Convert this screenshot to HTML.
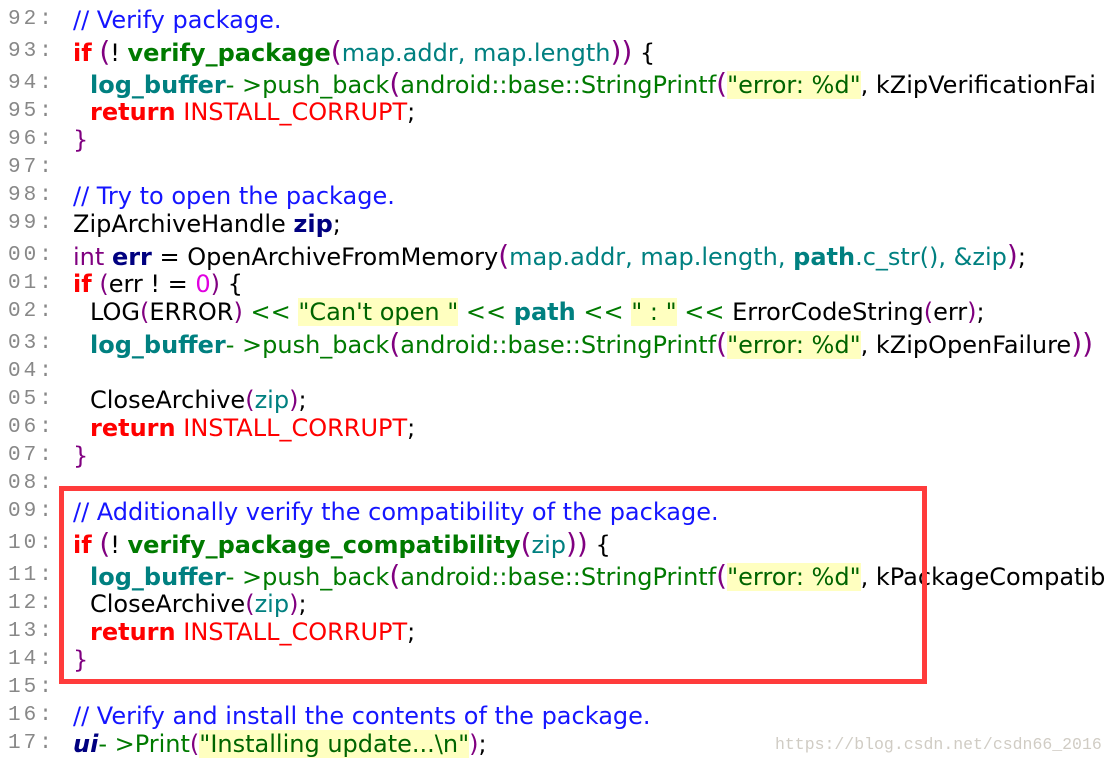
<!DOCTYPE html>
<html><head><meta charset="utf-8"><style>
body{margin:0;width:1115px;height:768px;background:#fff;overflow:hidden;position:relative;font-family:"DejaVu Sans","Liberation Sans",sans-serif}
.n{position:absolute;left:8px;font-family:"Liberation Mono",monospace;font-size:21px;color:#888;letter-spacing:3px;line-height:28px}
.l{position:absolute;font-size:24px;line-height:28px;white-space:nowrap;color:#000}
.cl{width:1025px;overflow:hidden}
.c{color:#1515ff}.k{color:#f00;font-weight:bold}.f{color:#007a00;font-weight:bold}.g{color:#007a00}
.t{color:#008080}.tb{color:#008080;font-weight:bold}.p{color:#800080;font-size:28px}.r{color:#f00}
.s{background:#ffffc0;color:#006400}.v{color:#000080;font-weight:bold}.m{color:#e000e0}.pu{color:#800080}
.box{position:absolute;left:59px;top:486px;width:858px;height:188px;border:5px solid #ff3b3b}
.w{position:absolute;left:775px;top:735px;font-family:"Liberation Mono",monospace;font-size:16.5px;color:#d0ccc4}
</style></head><body>
<div class="n" style="top:6px">92:</div><div class="l" style="left:73px;top:6px"><span class="c">// Verify package.</span></div>
<div class="n" style="top:38px">93:</div><div class="l" style="left:73px;top:38px"><span class="k">if</span> <span class="p">(</span>! <span class="f">verify_package</span><span class="p">(</span><span class="t">map.addr, map.length</span><span class="p">))</span> {</div>
<div class="n" style="top:70px">94:</div><div class="l cl" style="left:90px;top:70px"><span class="tb">log_buffer</span><span class="g">- &gt;push_back</span><span class="p">(</span><span class="g">android::base::StringPrintf</span><span class="p">(</span><span class="s">"error: %d"</span>, kZipVerificationFai</div>
<div class="n" style="top:98px">95:</div><div class="l" style="left:90px;top:98px"><span class="k">return</span> <span class="r">INSTALL_CORRUPT</span>;</div>
<div class="n" style="top:126px">96:</div><div class="l" style="left:73px;top:126px"><span class="pu">}</span></div>
<div class="n" style="top:154px">97:</div>
<div class="n" style="top:182px">98:</div><div class="l" style="left:73px;top:182px"><span class="c">// Try to open the package.</span></div>
<div class="n" style="top:210px">99:</div><div class="l" style="left:73px;top:210px">ZipArchiveHandle <span class="v">zip</span>;</div>
<div class="n" style="top:242px">00:</div><div class="l" style="left:73px;top:242px"><span class="pu">int</span> <span class="v">err</span> = OpenArchiveFromMemory<span class="p">(</span><span class="t">map.addr, map.length, </span><span class="tb">path</span><span class="t">.c_str(), &amp;zip</span><span class="p">)</span>;</div>
<div class="n" style="top:270px">01:</div><div class="l" style="left:73px;top:270px"><span class="k">if</span> <span class="pu">(</span>err ! = <span class="m">0</span><span class="pu">)</span> {</div>
<div class="n" style="top:298px">02:</div><div class="l" style="left:90px;top:298px">LOG<span class="pu">(</span>ERROR<span class="pu">)</span> <span class="g">&lt;&lt;</span> <span class="s">"Can't open "</span> <span class="g">&lt;&lt;</span> <span class="tb">path</span> <span class="g">&lt;&lt;</span> <span class="s">" : "</span> <span class="g">&lt;&lt;</span> ErrorCodeString<span class="pu">(</span>err<span class="pu">)</span>;</div>
<div class="n" style="top:330px">03:</div><div class="l cl" style="left:90px;top:330px"><span class="tb">log_buffer</span><span class="g">- &gt;push_back</span><span class="p">(</span><span class="g">android::base::StringPrintf</span><span class="p">(</span><span class="s">"error: %d"</span>, kZipOpenFailure<span class="p">))</span></div>
<div class="n" style="top:358px">04:</div>
<div class="n" style="top:386px">05:</div><div class="l" style="left:90px;top:386px">CloseArchive<span class="pu">(</span><span class="t">zip</span><span class="pu">)</span>;</div>
<div class="n" style="top:414px">06:</div><div class="l" style="left:90px;top:414px"><span class="k">return</span> <span class="r">INSTALL_CORRUPT</span>;</div>
<div class="n" style="top:442px">07:</div><div class="l" style="left:73px;top:442px"><span class="pu">}</span></div>
<div class="n" style="top:470px">08:</div>
<div class="n" style="top:498px">09:</div><div class="l" style="left:73px;top:498px"><span class="c">// Additionally verify the compatibility of the package.</span></div>
<div class="n" style="top:530px">10:</div><div class="l" style="left:73px;top:530px"><span class="k">if</span> <span class="p">(</span>! <span class="f">verify_package_compatibility</span><span class="p">(</span><span class="t">zip</span><span class="p">))</span> {</div>
<div class="n" style="top:562px">11:</div><div class="l cl" style="left:90px;top:562px"><span class="tb">log_buffer</span><span class="g">- &gt;push_back</span><span class="p">(</span><span class="g">android::base::StringPrintf</span><span class="p">(</span><span class="s">"error: %d"</span>, kPackageCompatib</div>
<div class="n" style="top:590px">12:</div><div class="l" style="left:90px;top:590px">CloseArchive<span class="pu">(</span><span class="t">zip</span><span class="pu">)</span>;</div>
<div class="n" style="top:618px">13:</div><div class="l" style="left:90px;top:618px"><span class="k">return</span> <span class="r">INSTALL_CORRUPT</span>;</div>
<div class="n" style="top:646px">14:</div><div class="l" style="left:73px;top:646px"><span class="pu">}</span></div>
<div class="n" style="top:674px">15:</div>
<div class="n" style="top:702px">16:</div><div class="l" style="left:73px;top:702px"><span class="c">// Verify and install the contents of the package.</span></div>
<div class="n" style="top:730px">17:</div><div class="l" style="left:73px;top:730px"><span class="v" style="font-style:italic">ui</span><span class="g">- &gt;Print</span><span class="pu">(</span><span class="s">"Installing update...\n"</span><span class="pu">)</span>;</div>
<div class="box"></div>
<div class="w">https://blog.csdn.net/csdn66_2016</div>
</body></html>
